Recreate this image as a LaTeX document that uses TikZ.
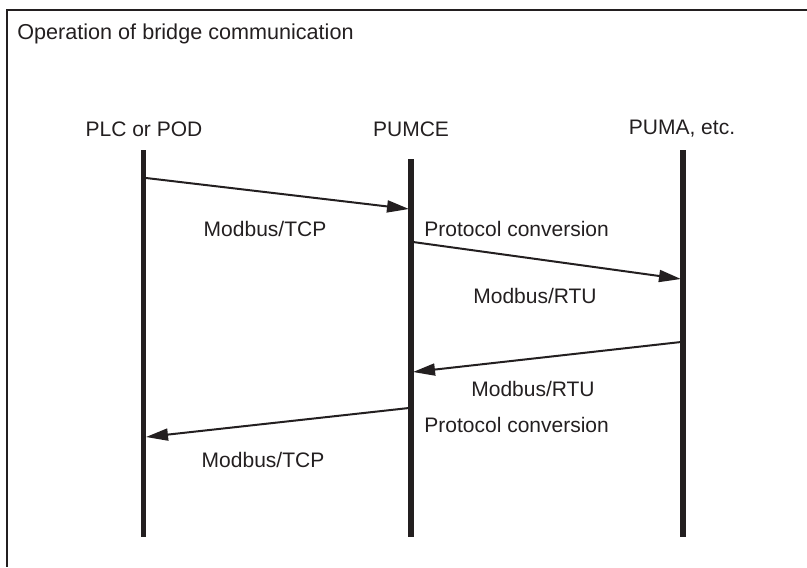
\documentclass[tikz,border=0pt]{standalone}
\usepackage{fontspec}
\setmainfont{Liberation Sans}
\usetikzlibrary{arrows.meta}
\definecolor{ink}{HTML}{231F20}
\tikzset{
  lifeline/.style={draw=ink, line width=2.6pt},
  msg/.style={draw=ink, line width=1pt, -{Triangle[length=11pt, width=6pt]}},
  lbl/.style={text=ink, font=\fontsize{10.5}{12}\selectfont, inner sep=0pt}
}
\begin{document}
\begin{tikzpicture}[x=0.5pt, y=-0.5pt]
                    \useasboundingbox (0,0) rectangle (807,567);
                    \draw[ink, line width=1.1pt] (807,10) -- (7,10) -- (7,567);
                    \node (title) [lbl, font=\fontsize{10.8}{12}\selectfont, anchor=west] at (17,34) {Operation of bridge communication};

                    \node (PLC) [lbl] at (144,129) {PLC or POD};
                    \node (PUMCE) [lbl] at (411,129) {PUMCE};
                    \node (PUMA) [lbl] at (682,129) {PUMA, etc.};

                    \coordinate (PLCtop) at (143.5,150);
                    \coordinate (PLCbot) at (143.5,537);
                    \coordinate (PUMCEtop) at (411,159);
                    \coordinate (PUMCEbot) at (411,537);
                    \coordinate (PUMAtop) at (683,150);
                    \coordinate (PUMAbot) at (683,537);

                    \draw[lifeline] (PLCtop) -- (PLCbot);
                    \draw[lifeline] (PUMCEtop) -- (PUMCEbot);
                    \draw[lifeline] (PUMAtop) -- (PUMAbot);

                    \coordinate (req1s) at (146,178);
                    \coordinate (req1e) at (409,209);
                    \coordinate (req2s) at (413,242);
                    \coordinate (req2e) at (681,279);
                    \coordinate (res1s) at (681,342);
                    \coordinate (res1e) at (413,372);
                    \coordinate (res2s) at (409,408);
                    \coordinate (res2e) at (146,437);

                    \draw[msg] (req1s) -- (req1e);
                    \draw[msg] (req2s) -- (req2e);
                    \draw[msg] (res1s) -- (res1e);
                    \draw[msg] (res2s) -- (res2e);

                    \node (tcp1) [lbl] at (265,229) {Modbus/TCP};
                    \node (conv1) [lbl, anchor=west] at (424,229) {Protocol conversion};
                    \node (rtu1) [lbl] at (535,296) {Modbus/RTU};
                    \node (rtu2) [lbl] at (533,389) {Modbus/RTU};
                    \node (conv2) [lbl, anchor=west] at (424,425) {Protocol conversion};
                    \node (tcp2) [lbl] at (263,460) {Modbus/TCP};
                \end{tikzpicture}
\end{document}
